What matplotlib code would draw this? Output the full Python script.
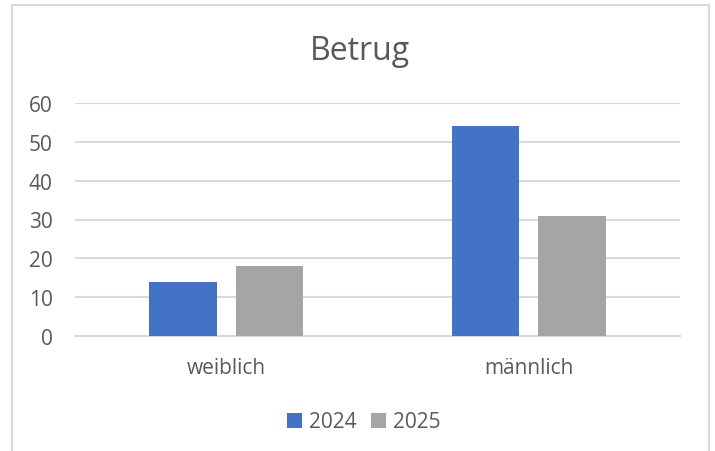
import matplotlib.pyplot as plt
import numpy as np
from matplotlib.patches import Rectangle

# data
categories = ['weiblich', 'männlich']
series_names = ['2024', '2025']
values_2024 = [14, 54]
values_2025 = [18, 31]
colors = ['#4472C4', '#A5A5A5']
text_color = '#595959'
grid_color = '#D9D9D9'

plt.rcParams['font.family'] = ['Open Sans', 'DejaVu Sans']

fig = plt.figure(figsize=(7.15, 4.52), dpi=100)

# chart border like an office chart frame
fig.patches.append(Rectangle((12 / 715, -0.1), (709 - 12) / 715, 1.1 - 6 / 452,
                             transform=fig.transFigure, fill=False,
                             edgecolor=grid_color, linewidth=1.5))

ax = fig.add_axes([75 / 715, 1 - 337 / 452, 605 / 715, (337 - 104) / 452])

x = np.arange(len(categories))
width = 0.222
offset = 0.143
ax.bar(x - offset, values_2024, width, color=colors[0], label=series_names[0], zorder=3)
ax.bar(x + offset, values_2025, width, color=colors[1], label=series_names[1], zorder=3)

ax.set_xlim(-0.5, 1.5)
ax.set_ylim(0, 60)
ax.set_yticks(range(0, 61, 10))
ax.yaxis.grid(True, color=grid_color, linewidth=1.5, zorder=0)
for s in ['top', 'right', 'left']:
    ax.spines[s].set_visible(False)
ax.spines['bottom'].set_color(grid_color)
ax.spines['bottom'].set_linewidth(1.5)
ax.tick_params(axis='both', length=0, colors=text_color, labelsize=15)
ax.tick_params(axis='y', pad=16)
ax.tick_params(axis='x', pad=15)
ax.set_xticks(x)
ax.set_xticklabels(categories)

fig.text(0.504, 1 - 51 / 452, 'Betrug', ha='center', va='center',
         fontsize=23, color=text_color)

leg = fig.legend(loc='center', bbox_to_anchor=(0.509, 1 - 423 / 452), ncol=2,
                 frameon=False, fontsize=15, handlelength=0.7, handleheight=0.7,
                 handletextpad=0.35, columnspacing=0.7, labelcolor=text_color)

plt.savefig('out.png', dpi=100)
